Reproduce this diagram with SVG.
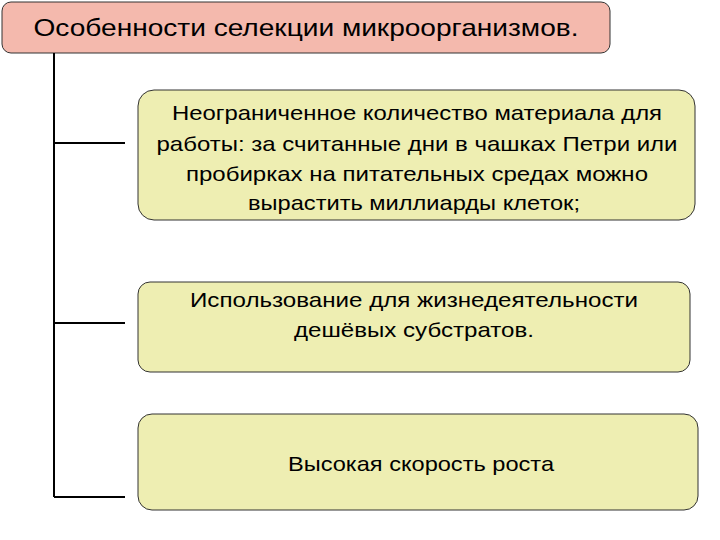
<svg xmlns="http://www.w3.org/2000/svg" width="720" height="540" viewBox="0 0 720 540">
<style>
.b{fill:#eeeeb2;stroke:#333;stroke-width:1}
.t{font-family:"Liberation Sans",Arial,sans-serif;font-size:21px;fill:#000;text-anchor:middle}
.c{stroke:#000;stroke-width:2;fill:none}
</style>
<rect width="720" height="540" fill="#fff"/>
<g id="header"><rect x="2" y="2" width="608" height="51" rx="9" fill="#f4b9ad" stroke="#333"/>
<text x="306" y="36" class="t" style="font-size:24px" textLength="545" lengthAdjust="spacingAndGlyphs">Особенности селекции микроорганизмов.</text></g>
<g id="connectors">
<path class="c" d="M54 53V497M54 143H125M54 323H125M54 497H125"/>
</g>
<g id="n1"><rect class="b" x="138" y="90" width="557" height="130" rx="16"/>
<text class="t" x="417" y="120" textLength="490" lengthAdjust="spacingAndGlyphs">Неограниченное количество материала для</text>
<text class="t" x="417" y="151" textLength="521" lengthAdjust="spacingAndGlyphs">работы: за считанные дни в чашках Петри или</text>
<text class="t" x="417" y="181" textLength="462" lengthAdjust="spacingAndGlyphs">пробирках на питательных средах можно</text>
<text class="t" x="414" y="210" textLength="332" lengthAdjust="spacingAndGlyphs">вырастить миллиарды клеток;</text></g>
<g id="n2"><rect class="b" x="138" y="282" width="552" height="90" rx="12"/>
<text class="t" x="414" y="307" textLength="448" lengthAdjust="spacingAndGlyphs">Использование для жизнедеятельности</text>
<text class="t" x="414" y="337" textLength="240" lengthAdjust="spacingAndGlyphs">дешёвых субстратов.</text></g>
<g id="n3"><rect class="b" x="138" y="414" width="560" height="96" rx="14"/>
<text class="t" x="421" y="471" textLength="266" lengthAdjust="spacingAndGlyphs">Высокая скорость роста</text></g>
</svg>
